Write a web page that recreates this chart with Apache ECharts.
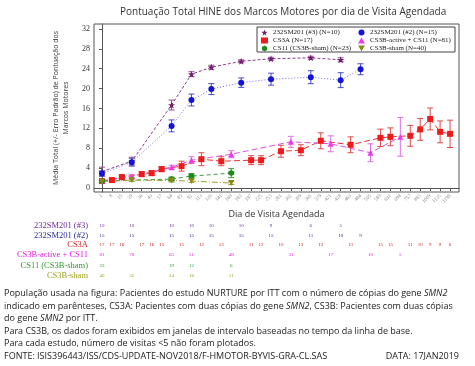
<!DOCTYPE html>
<html><head><meta charset="utf-8">
<script src="https://cdn.jsdelivr.net/npm/echarts@6/dist/echarts.min.js"></script>
<style>html,body{margin:0;padding:0;background:#fff}#c{width:475px;height:366px}</style>
</head><body><div id="c"></div>
<script>
const xLabels = ['1','8','15','29','36','43','57','64','85','92','113','120','141','169','183','197','225','253','281','302','309','365','379','421','428','463','484','505','589','631','694','757','883','1009','1135','1198'];
const yTicks = [0,4,8,12,16,20,24,28,32];

const s3Idx  = [0,3,7,9,11,14,17,21,24];
const s3Mean = [3.3,5.4,16.7,22.9,24.3,25.5,26.0,26.2,25.8];
const s3Se   = [0.9,0.8,1.0,0.5,0.4,0.3,0.3,0.3,0.4];
const s3N    = [10,10,10,10,10,10,9,6,5];

const s2Idx  = [0,3,7,9,11,14,17,21,24,26];
const s2Mean = [2.9,5.2,12.5,17.7,19.9,21.2,21.9,22.3,21.7,23.9];
const s2Se   = [0.5,0.8,1.2,1.2,1.1,0.95,1.2,1.3,1.5,1.1];
const s2N    = [15,15,15,15,15,15,15,11,10,9];

const aIdx  = [0,1,2,4,5,6,8,10,12,15,16,18,20,22,25,28,29,31,32,33,34,35];
const aMean = [1.4,1.6,2.2,2.8,3.0,3.8,4.4,5.8,5.4,5.6,5.6,7.4,7.6,9.5,8.7,10.1,10.3,10.5,11.8,13.9,11.3,10.9];
const aSe   = [0.3,0.3,0.4,0.5,0.5,0.5,1.0,1.3,0.9,0.9,0.9,1.2,1.1,1.6,1.6,1.75,1.8,2.1,2.2,2.2,2.2,2.75];
const aN    = [17,17,16,17,16,15,15,12,13,11,12,10,13,13,13,15,15,11,10,9,9,6];

const bIdx  = [0,3,7,9,13,19,23,27,30];
const bMean = [1.5,2.3,4.2,5.6,6.8,9.3,8.9,7.1,10.3];
const bSe   = [0.2,0.4,0.4,0.7,0.7,1.1,1.6,1.8,3.9];
const bN    = [81,70,65,51,48,31,17,10,5];

const gIdx  = [0,7,9,13];
const gMean = [1.4,1.8,2.4,3.0];
const gSe   = [0.3,0.4,0.5,0.9];
const gN    = [23,19,12,6];

const oIdx  = [0,3,7,9,13];
const oMean = [1.3,1.6,1.5,1.4,1.0];
const oSe   = [0.2,0.3,0.3,0.3,0.3];
const oN    = [40,32,24,16,11];

const STAR = 'path://M0,-10 L2.35,-3.24 9.51,-3.09 3.8,1.24 5.88,8.09 0,4 -5.88,8.09 -3.8,1.24 -9.51,-3.09 -2.35,-3.24 Z';
const DOWN = 'path://M-5,-4 L5,-4 L0,5 Z';
const HEX  = 'path://M0,-5 L4.3,-2.5 4.3,2.5 0,5 -4.3,2.5 -4.3,-2.5 Z';

const groups = [
  {name:'232SM201 (#3) (N=10)', label:'232SM201 (#3)', idx:s3Idx, mean:s3Mean, se:s3Se, n:s3N, color:'#6e1f70', err:'#9b4a9e', line:'#8a3a8c', type:[3,2], sym:STAR, size:7, lab:'#6a2a9a'},
  {name:'232SM201 (#2) (N=15)', label:'232SM201 (#2)', idx:s2Idx, mean:s2Mean, se:s2Se, n:s2N, color:'#1414d8', err:'#4a4ad0', line:'#6a6aee', type:[1,2], sym:'circle', size:6, lab:'#2a2a90'},
  {name:'CS3A (N=17)', label:'CS3A', idx:aIdx, mean:aMean, se:aSe, n:aN, color:'#ee1b1b', err:'#e04848', line:'#e83030', type:[6,3], sym:'rect', size:6, lab:'#cc2222'},
  {name:'CS3B-active + CS11 (N=81)', label:'CS3B-active + CS11', idx:bIdx, mean:bMean, se:bSe, n:bN, color:'#ee3aee', err:'#e070e0', line:'#e050e0', type:[6,3], sym:'triangle', size:6, lab:'#e020e0'},
  {name:'CS11 (CS3B-sham) (N=23)', label:'CS11 (CS3B-sham)', idx:gIdx, mean:gMean, se:gSe, n:gN, color:'#1d8a1d', err:'#3a9a3a', line:'#3a9a3a', type:[4,3], sym:HEX, size:6, lab:'#2e9a2e'},
  {name:'CS3B-sham (N=40)', label:'CS3B-sham', idx:oIdx, mean:oMean, se:oSe, n:oN, color:'#8a8a14', err:'#a0a030', line:'#9a9a30', type:[6,2,1,2], sym:DOWN, size:6, lab:'#a0a020'}
];

const series = [];
groups.forEach(g => {
  series.push({
    type:'custom', name:g.name+'_err', silent:true, z:2,
    data: g.idx.map((x,i)=>[x, g.mean[i]-g.se[i], g.mean[i]+g.se[i]]),
    encode:{x:0,y:[1,2]},
    renderItem:(params, api)=>{
      const x=api.value(0), lo=api.coord([x,api.value(1)]), hi=api.coord([x,api.value(2)]);
      const w=3, st={stroke:g.err, lineWidth:1};
      return {type:'group', children:[
        {type:'line', shape:{x1:lo[0],y1:lo[1],x2:hi[0],y2:hi[1]}, style:st},
        {type:'line', shape:{x1:lo[0]-w,y1:lo[1],x2:lo[0]+w,y2:lo[1]}, style:st},
        {type:'line', shape:{x1:hi[0]-w,y1:hi[1],x2:hi[0]+w,y2:hi[1]}, style:st}
      ]};
    }
  });
  series.push({
    type:'line', name:g.name, z:3,
    data: g.idx.map((x,i)=>[x, g.mean[i]]),
    symbol:g.sym, symbolSize:g.size,
    itemStyle:{color:g.color},
    lineStyle:{color:g.line, width:1, type:g.type},
    animation:false
  });
});

const chart = echarts.init(document.getElementById('c'), null, {renderer:'canvas'});
const legendText = {fontFamily:'Liberation Serif', fontSize:7, color:'#222', lineHeight:7};
chart.setOption({
  animation:false,
  title:{text:'Pontuação Total HINE dos Marcos Motores por dia de Visita Agendada', left:115, top:2,
    textStyle:{fontFamily:'Open Sans', fontSize:10, fontWeight:'normal', color:'#333'}},
  grid:{left:94, right:16, top:24, bottom:174, show:true, borderColor:'#555', borderWidth:1},
  legend:[
    {orient:'vertical', left:261, top:29, padding:0, itemGap:1, itemWidth:7, itemHeight:6, textStyle:legendText,
     data:[{name:groups[0].name, icon:STAR},{name:groups[2].name, icon:'rect'},{name:groups[4].name, icon:HEX}]},
    {orient:'vertical', left:358, top:29, padding:0, itemGap:1, itemWidth:7, itemHeight:6, textStyle:legendText,
     data:[{name:groups[1].name, icon:'circle'},{name:groups[3].name, icon:'triangle'},{name:groups[5].name, icon:DOWN}]}
  ],
  xAxis:{type:'value', min:-0.8, max:35.9,
    name:'Dia de Visita Agendada', nameLocation:'middle', nameGap:18,
    nameTextStyle:{fontFamily:'Open Sans', fontSize:9, color:'#333'},
    axisLine:{lineStyle:{color:'#555'}},
    axisTick:{customValues:xLabels.map((_,i)=>i), length:3, lineStyle:{color:'#555'}},
    axisLabel:{customValues:xLabels.map((_,i)=>i), formatter:v=>xLabels[v]||'', rotate:45, fontSize:5, color:'#888', margin:3, fontFamily:'Liberation Serif'},
    splitLine:{show:false}},
  yAxis:{type:'value', min:-0.8, max:33,
    name:'Média Total (+/- Erro Padrão) de Pontuação dos\nMarcos Motores', nameLocation:'middle', nameGap:22, nameRotate:90,
    nameTextStyle:{fontFamily:'Open Sans', fontSize:7, color:'#333', lineHeight:10},
    axisLine:{show:true, lineStyle:{color:'#555'}},
    axisTick:{show:true, customValues:yTicks, length:3, lineStyle:{color:'#555'}},
    axisLabel:{customValues:yTicks, fontFamily:'Liberation Serif', fontSize:8, color:'#333', margin:4},
    splitLine:{show:false}},
  series
});

const graphics = [];
graphics.push({type:'rect', shape:{x:257, y:27, width:198, height:25}, style:{fill:'rgba(255,255,255,0.9)', stroke:'#444', lineWidth:1}, z:-1, silent:true, zlevel:0});
const rowY = [226, 235.5, 245, 255, 265.5, 276];
groups.forEach((g, r) => {
  graphics.push({type:'text', x:88, y:rowY[r], style:{text:g.label, align:'right', verticalAlign:'middle', font:'8.5px "Liberation Serif"', fill:g.lab}});
  g.idx.forEach((x,i) => {
    const px = chart.convertToPixel({xAxisIndex:0}, x);
    graphics.push({type:'text', x:px, y:rowY[r], style:{text:String(g.n[i]), align:'center', verticalAlign:'middle', font:'5px "Liberation Serif"', fill:g.lab}});
  });
});
const notes = [
  'População usada na figura: Pacientes do estudo NURTURE por ITT com o número de cópias do gene {i|SMN2}',
  'indicado em parênteses, CS3A: Pacientes com duas cópias do gene {i|SMN2}, CS3B: Pacientes com duas cópias',
  'do gene {i|SMN2} por ITT.',
  'Para CS3B, os dados foram exibidos em janelas de intervalo baseadas no tempo da linha de base.',
  'Para cada estudo, número de visitas <5 não foram plotados.',
  'FONTE: ISIS396443/ISS/CDS-UPDATE-NOV2018/F-HMOTOR-BYVIS-GRA-CL.SAS'
];
const noteY = [293, 306, 318.5, 331, 343.5, 356];
notes.forEach((t,i) => {
  graphics.push({type:'text', x:4, y:noteY[i], style:{text:t, verticalAlign:'middle', fontFamily:'Open Sans', fontSize:9, fill:'#222',
    rich:{i:{fontStyle:'italic', fontFamily:'Open Sans', fontSize:9, fill:'#222'}}}});
});
graphics.push({type:'text', x:459, y:356, style:{text:'DATA: 17JAN2019', align:'right', verticalAlign:'middle', fontFamily:'Open Sans', fontSize:9, fill:'#222'}});
chart.setOption({graphic:graphics});
</script></body></html>
